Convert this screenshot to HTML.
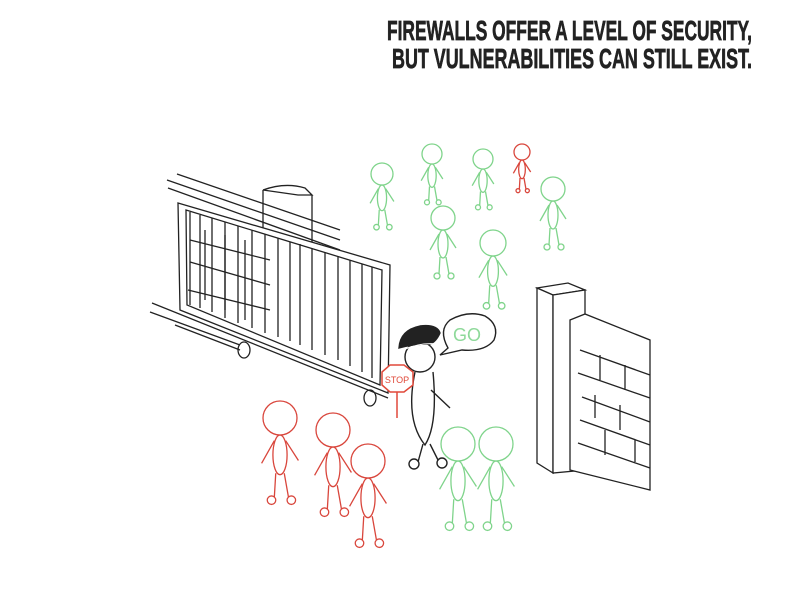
<!DOCTYPE html>
<html><head><meta charset="utf-8"><style>
html,body{margin:0;padding:0;background:#fff;}
svg{display:block;}
</style></head><body>
<svg id="art" width="800" height="600" viewBox="0 0 800 600" xmlns="http://www.w3.org/2000/svg">
<rect width="800" height="600" fill="#fff"/>
<g font-family="'Liberation Sans Narrow','Liberation Sans',sans-serif" font-weight="bold" fill="#222" stroke="#222" stroke-width="0.7" font-size="28">
<text x="752" y="40" text-anchor="end" textLength="365" lengthAdjust="spacingAndGlyphs">FIREWALLS OFFER A LEVEL OF SECURITY,</text>
<text x="752" y="68" text-anchor="end" textLength="360" lengthAdjust="spacingAndGlyphs">BUT VULNERABILITIES CAN STILL EXIST.</text>
</g>
<g fill="none" stroke="#222" stroke-width="1.3">
<line x1="177" y1="174" x2="340" y2="230"/><line x1="167" y1="180" x2="340" y2="240"/><line x1="168" y1="188" x2="340" y2="250"/>
<path d="M263,190 L263,240 M312,195 L312,245 M263,190 Q285,182 305,188 L312,195 L298,195 L263,190"/>
<polygon points="178,203 390,265 388,393 180,310" fill="#fff"/>
<polygon points="186,210 382,270 380,385 187,305"/>
<path d="M190,212 L190,305 M200,215 L200,308 M212,218 L212,312 M225,222 L225,318 M238,226 L238,323 M252,230 L252,328 M265,234 L265,333 M278,238 L278,337 M290,242 L290,341 M300,244 L300,345 M312,248 L312,350 M325,252 L325,355 M338,256 L338,360 M350,260 L350,366 M362,264 L362,372 M372,267 L372,378"/>
<path d="M190,240 L270,260 M190,262 L270,285 M188,290 L270,310 M205,230 L205,300 M225,235 L225,310 M245,240 L245,320"/>
<line x1="152" y1="303" x2="388" y2="398"/><line x1="150" y1="312" x2="240" y2="345"/><line x1="175" y1="325" x2="240" y2="350"/>
<ellipse cx="244" cy="350" rx="6" ry="8"/><ellipse cx="370" cy="398" rx="6" ry="8"/>
</g>
<g fill="#fff" stroke="#222" stroke-width="1.3">
<polygon points="537,288 568,283 585,290 553,295"/>
<polygon points="537,288 553,295 553,473 537,463"/>
<polygon points="553,295 585,290 585,470 553,473"/>
<polygon points="570,320 585,314 650,340 650,490 570,470" />
<path d="M580,350 L650,375 M578,373 L650,398 M582,397 L650,422 M580,420 L650,445 M578,443 L650,468 M600,355 L600,380 M625,365 L625,390 M595,395 L595,418 M620,405 L620,430 M605,430 L605,455 M635,440 L635,462" fill="none"/>
</g>
<g id="people"></g>
<g fill="none" stroke="#222" stroke-width="1.4">
<circle cx="420" cy="357" r="15" fill="#fff"/>
<path d="M399,348 Q400,330 420,326 Q437,324 440,333 Q436,342 430,344 Q412,344 399,348 Z" fill="#222"/>
<path d="M403,350 Q420,342 438,344" stroke="#fff" stroke-width="1"/>
<path d="M415,372 Q405,420 425,445 Q438,425 433,372"/>
<path d="M431,390 L450,408"/>
<path d="M423,444 L418,462 M430,444 L438,460"/>
<circle cx="414" cy="464" r="5"/><circle cx="442" cy="463" r="5"/>
</g>
<g>
<path d="M448,348 Q438,330 450,320 Q468,310 485,316 Q500,325 494,340 Q485,352 462,350 L440,355 Z" fill="#fff" stroke="#222" stroke-width="1.4"/>
<text x="453" y="341" font-family="'Liberation Sans',sans-serif" font-size="18" fill="#8ed99a">GO</text>
</g>
<g>
<polygon points="390,365 404,365 413,372 413,385 404,392 390,392 382,385 382,372" fill="#fff" stroke="#e0493a" stroke-width="1.5"/>
<line x1="397" y1="392" x2="397" y2="418" stroke="#e0493a" stroke-width="1.5"/>
<text x="397" y="383" text-anchor="middle" font-family="'Liberation Sans',sans-serif" font-size="9" fill="#e0493a">STOP</text>
</g>
</svg>
<script>
const peopleX=[382,432,483,522,553,443,493,458,496,280,333,368];
const peopleY=[174,154,159,152,189,218,243,444,444,418,430,461];
const peopleR=[11,10,10,8,12,12,13,17,17,17,17,17];
const peopleGroup=["allowed","allowed","allowed","blocked","allowed","allowed","allowed","allowed","allowed","blocked","blocked","blocked"];
const colors={allowed:"#7fd48b",blocked:"#d9463c"};
const g=document.getElementById('people');
const NS="http://www.w3.org/2000/svg";
function mk(tag,attrs,parent){const e=document.createElementNS(NS,tag);for(const k in attrs)e.setAttribute(k,attrs[k]);parent.appendChild(e);return e;}
peopleX.forEach((x,i)=>{
  const y=peopleY[i],r=peopleR[i],c=colors[peopleGroup[i]],s=r/12;
  const p=document.createElementNS(NS,'g');
  
  
  p.setAttribute('fill','none');p.setAttribute('stroke',c);p.setAttribute('stroke-width','1.3');
  g.appendChild(p);
  mk('circle',{cx:x,cy:y,r:r,fill:'#fff'},p);
  mk('ellipse',{cx:x,cy:y+r+14*s,rx:5*s,ry:14*s},p);
  mk('path',{d:`M${x-4*s},${y+r+4*s} L${x-13*s},${y+r+20*s} M${x+4*s},${y+r+4*s} L${x+13*s},${y+r+18*s}`},p);
  mk('path',{d:`M${x-3*s},${y+r+27*s} L${x-4*s},${y+r+44*s} M${x+3*s},${y+r+27*s} L${x+6*s},${y+r+44*s}`},p);
  mk('circle',{cx:x-6*s,cy:y+r+46*s,r:3*s},p);
  mk('circle',{cx:x+8*s,cy:y+r+46*s,r:3*s},p);
});
</script>
</body></html>
